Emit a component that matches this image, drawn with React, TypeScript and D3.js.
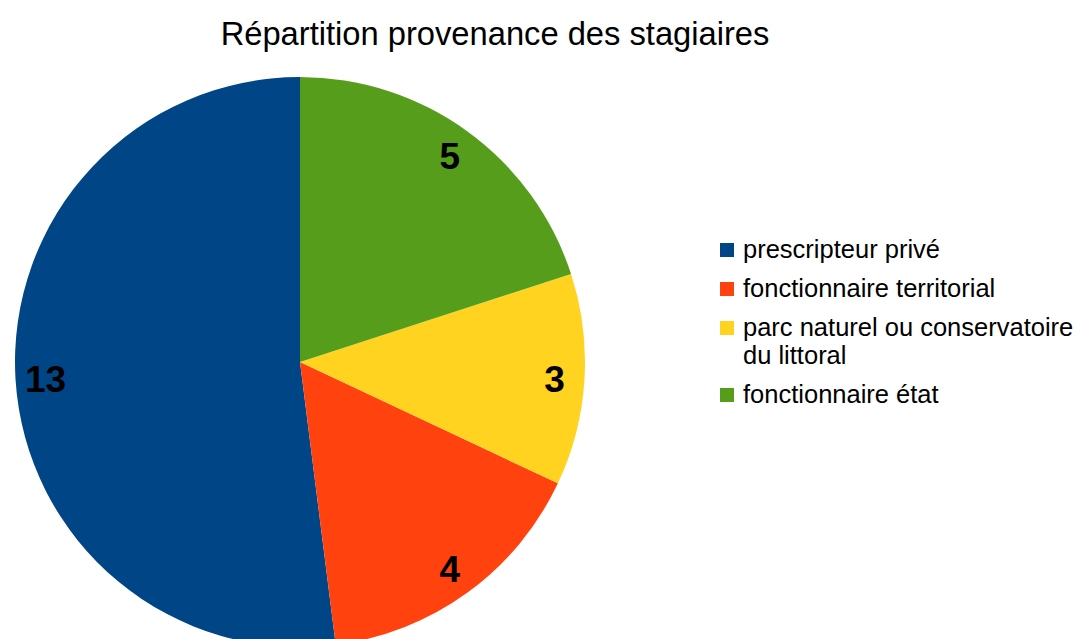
import React from "react";
import * as d3 from "d3";

const title = "Répartition provenance des stagiaires";
const categories = [
  "prescripteur privé",
  "fonctionnaire territorial",
  "parc naturel ou conservatoire du littoral",
  "fonctionnaire état",
];
const legendLines = [
  ["prescripteur privé"],
  ["fonctionnaire territorial"],
  ["parc naturel ou conservatoire", "du littoral"],
  ["fonctionnaire état"],
];
const values = [13, 4, 3, 5];
const colors = ["#004586", "#ff420e", "#ffd320", "#579d1c"];

export default function App() {
  const W = 1077, H = 639;
  const cx = 300, cy = 362, r = 285, labelR = 255;
  const pie = d3.pie<number>().sort(null).startAngle(0).endAngle(-2 * Math.PI);
  const arcs = pie(values);
  const arc = d3.arc<d3.PieArcDatum<number>>().innerRadius(0).outerRadius(r);
  const labelArc = d3.arc<d3.PieArcDatum<number>>().innerRadius(labelR).outerRadius(labelR);

  const legendX = 720, legendText = 743;
  const lineH = 28;
  const legendFont = 25.5;
  let y = 249;
  const legendItems = legendLines.map((lines, i) => {
    const item = { y, lines, i };
    y += lines.length * lineH + 11;
    return item;
  });

  return (
    <svg width={W} height={H} style={{ position: "absolute", left: 0, top: 0 }}
      fontFamily="'Liberation Sans', Arial, sans-serif">
      <rect width={W} height={H} fill="#fff" />
      <text x={495} y={45} textAnchor="middle" fontSize={32.7} fill="#000">{title}</text>
      <g transform={`translate(${cx},${cy})`}>
        {arcs.map((a, i) => (
          <path key={categories[i]} d={arc(a) || ""} fill={colors[i]} />
        ))}
        {arcs.map((a, i) => {
          const [lx, ly] = labelArc.centroid(a);
          return (
            <text key={"l" + i} x={lx} y={ly + 1} textAnchor="middle" dominantBaseline="central"
              fontSize={37} fontWeight="bold" fill="#000">{values[i]}</text>
          );
        })}
      </g>
      {legendItems.map(({ y, lines, i }) => (
        <g key={"lg" + i}>
          <rect x={legendX} y={y - 6} width={14} height={14} fill={colors[i]} />
          <text x={legendText} y={y} dominantBaseline="central" fontSize={legendFont} fill="#000">
            {lines.map((ln, j) => (
              <tspan key={j} x={legendText} dy={j === 0 ? 0 : lineH}>{ln}</tspan>
            ))}
          </text>
        </g>
      ))}
    </svg>
  );
}
